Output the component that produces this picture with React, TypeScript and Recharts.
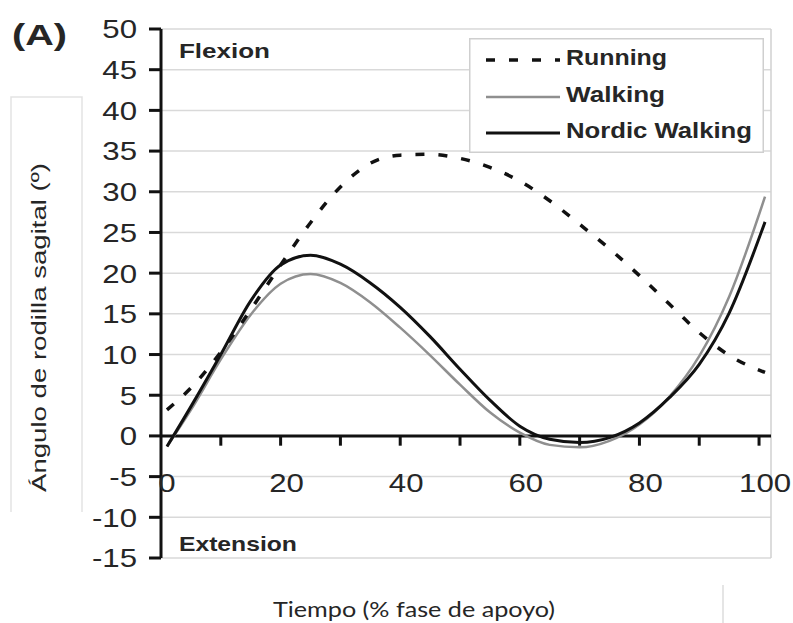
import {
  CartesianGrid,
  Legend,
  Line,
  LineChart,
  ReferenceDot,
  ReferenceLine,
  XAxis,
  YAxis,
} from 'recharts'

// % of stance phase
const PCT = [1, 5, 10, 15, 20, 25, 30, 35, 40, 45, 50, 55, 60, 65, 70, 75, 80, 85, 90, 95, 101]

// knee sagittal angle (deg)
const RUNNING = [3.2, 5.9, 10.3, 15.5, 21.0, 26.2, 30.6, 33.5, 34.5, 34.6, 34.1, 33.0, 31.3, 28.9, 26.0, 23.0, 19.7, 16.2, 12.7, 9.9, 7.8]
const WALKING = [-1.3, 3.2, 9.4, 14.9, 18.7, 19.9, 18.8, 16.4, 13.3, 9.9, 6.3, 2.9, 0.4, -1.1, -1.4, -0.6, 1.4, 4.8, 9.8, 17.1, 29.4]
const NORDIC = [-1.3, 3.6, 10.0, 16.6, 21.0, 22.2, 21.1, 18.8, 15.8, 12.2, 8.2, 4.4, 1.2, -0.4, -0.8, -0.2, 1.6, 4.7, 8.8, 15.1, 26.3]

const Y_TICKS = [-15, -10, -5, 0, 5, 10, 15, 20, 25, 30, 35, 40, 45, 50]
const X_TICK_MARKS = [10, 20, 30, 40, 50, 60, 70, 80, 90, 100]
const X_LABELS = [0, 20, 40, 60, 80, 100]

const data = PCT.map((pct, i) => ({
  pct,
  running: RUNNING[i],
  walking: WALKING[i],
  nordic: NORDIC[i],
}))

const SERIES = [
  { key: 'running', name: 'Running', stroke: '#111', width: 3.5, dash: '9 14', textLength: 101 },
  { key: 'walking', name: 'Walking', stroke: '#8f8f8f', width: 2.5, dash: undefined, textLength: 99 },
  { key: 'nordic', name: 'Nordic Walking', stroke: '#111', width: 3, dash: undefined, textLength: 186 },
]

const NUM_FONT = '"Liberation Sans", Arial, Helvetica, sans-serif'
const TEXT_COLOR = '#262626'

function YTick(props: any) {
  const { x, y, payload } = props
  return (
    <text
      transform={`translate(${x},${y}) scale(1.2,1)`}
      textAnchor='end'
      dy='0.36em'
      fontFamily={NUM_FONT}
      fontSize={26}
      fill={TEXT_COLOR}
    >
      {payload.value}
    </text>
  )
}

function XTickLabel(props: any) {
  const { viewBox, text } = props
  if (!viewBox) return null
  return (
    <text
      transform={`translate(${viewBox.x + 6},${viewBox.y}) scale(1.2,1)`}
      textAnchor='middle'
      dy='0.36em'
      fontFamily={NUM_FONT}
      fontSize={26}
      fill={TEXT_COLOR}
    >
      {text}
    </text>
  )
}

function NoteLabel(props: any) {
  const { viewBox, text, width } = props
  if (!viewBox) return null
  return (
    <text
      x={viewBox.x}
      y={viewBox.y}
      fontFamily={NUM_FONT}
      fontWeight='bold'
      fontSize={21}
      fill={TEXT_COLOR}
      textLength={width}
      lengthAdjust='spacingAndGlyphs'
    >
      {text}
    </text>
  )
}

function ChartLegend() {
  const rows = [22, 59, 95]
  return (
    <svg width={295} height={115} style={{ display: 'block' }}>
      <rect x={0.75} y={0.75} width={293.5} height={113.5} fill='#fff' stroke='#cfcfcf' strokeWidth={1.5} />
      {SERIES.map((s, i) => (
        <g key={s.key}>
          <line
            x1={17}
            x2={91}
            y1={rows[i]}
            y2={rows[i]}
            stroke={s.stroke}
            strokeWidth={s.width}
            strokeDasharray={s.dash}
          />
          <text
            x={97}
            y={rows[i] + 4.5}
            fontFamily={NUM_FONT}
            fontWeight='bold'
            fontSize={22}
            fill={TEXT_COLOR}
            textLength={s.textLength}
            lengthAdjust='spacingAndGlyphs'
          >
            {s.name}
          </text>
        </g>
      ))}
    </svg>
  )
}

export default function App() {
  return (
    <div style={{ position: 'absolute', left: 0, top: 0, width: 793, height: 623, background: '#fff' }}>
      <LineChart
        width={793}
        height={623}
        data={data}
        margin={{ top: 29, right: 22, bottom: 65, left: 0 }}
      >
        <CartesianGrid vertical={false} stroke='#d9d9d9' strokeWidth={1.5} />
        <XAxis type='number' dataKey='pct' domain={[0, 102]} hide allowDataOverflow />
        <YAxis
          type='number'
          domain={[-15, 50]}
          ticks={Y_TICKS}
          interval={0}
          width={161}
          tickSize={12}
          tickMargin={12}
          axisLine={{ stroke: '#111', strokeWidth: 3 }}
          tickLine={{ stroke: '#111', strokeWidth: 3 }}
          tick={(p: any) => <YTick {...p} />}
          allowDataOverflow
        />
        <ReferenceLine x={102} stroke='#d0d0d0' strokeWidth={1.5} />
        <ReferenceLine y={0} stroke='#111' strokeWidth={3} />
        {X_TICK_MARKS.map((t) => (
          <ReferenceLine
            key={'tm' + t}
            segment={[{ x: t, y: 0 }, { x: t, y: -1.2 }]}
            stroke='#111'
            strokeWidth={3}
          />
        ))}
        {X_LABELS.map((t) => (
          <ReferenceDot
            key={'tl' + t}
            x={t}
            y={-5.7}
            r={0}
            fill='none'
            stroke='none'
            label={<XTickLabel text={String(t)} />}
          />
        ))}
        <ReferenceDot x={3} y={46.4} r={0} fill='none' stroke='none' label={<NoteLabel text='Flexion' width={91} />} />
        <ReferenceDot x={3} y={-14.1} r={0} fill='none' stroke='none' label={<NoteLabel text='Extension' width={118} />} />
        <Legend
          layout='vertical'
          align='center'
          verticalAlign='middle'
          wrapperStyle={{ top: 38, left: 469, width: 295, height: 115 }}
          content={() => <ChartLegend />}
        />
        <Line
          type='monotone'
          dataKey='walking'
          name='Walking'
          stroke='#8f8f8f'
          strokeWidth={2.5}
          dot={false}
          activeDot={false}
          isAnimationActive={false}
        />
        <Line
          type='monotone'
          dataKey='nordic'
          name='Nordic Walking'
          stroke='#111'
          strokeWidth={3}
          dot={false}
          activeDot={false}
          isAnimationActive={false}
        />
        <Line
          type='monotone'
          dataKey='running'
          name='Running'
          stroke='#111'
          strokeWidth={3.5}
          strokeDasharray='9 14'
          dot={false}
          activeDot={false}
          isAnimationActive={false}
        />
      </LineChart>
      <svg
        width={793}
        height={623}
        style={{ position: 'absolute', left: 0, top: 0, pointerEvents: 'none' }}
      >
        <text x={12} y={45} fontFamily={NUM_FONT} fontWeight='bold' fontSize={29} fill={TEXT_COLOR} textLength={55} lengthAdjust='spacingAndGlyphs'>
          (A)
        </text>
        {/* leftover frame of the axis title box */}
        <polyline points='11,512 11,97 82,97 82,512' fill='none' stroke='#e3e3e3' strokeWidth={1.5} />
        <line x1={723} y1={585} x2={723} y2={623} stroke='#dcdcdc' strokeWidth={1.5} />
        <text
          transform='translate(46,327.5) rotate(-90)'
          textAnchor='middle'
          fontFamily={NUM_FONT}
          fontSize={20}
          fill={TEXT_COLOR}
          textLength={329}
          lengthAdjust='spacingAndGlyphs'
        >
          Ángulo de rodilla sagital (º)
        </text>
        <text
          x={273}
          y={617}
          fontFamily='Lato, "Open Sans", sans-serif'
          fontSize={21}
          fill={TEXT_COLOR}
          textLength={282}
          lengthAdjust='spacingAndGlyphs'
        >
          Tiempo (% fase de apoyo)
        </text>
      </svg>
    </div>
  )
}
